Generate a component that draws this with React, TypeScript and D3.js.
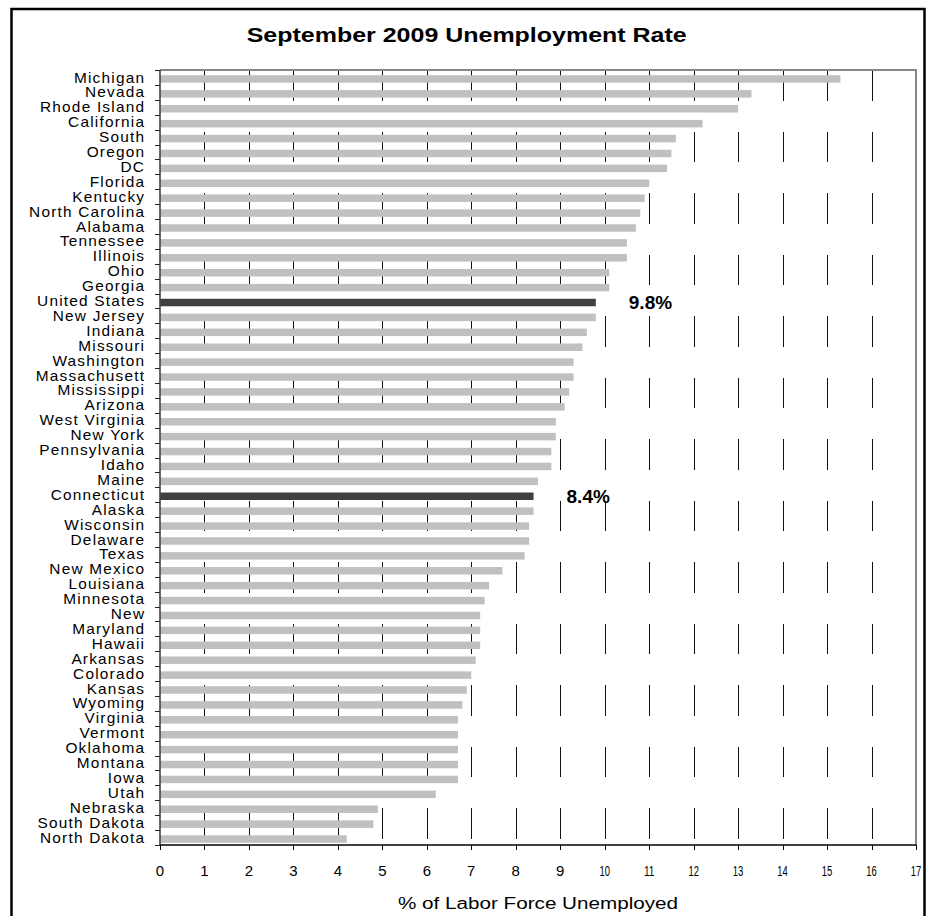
import React from "react";
import * as d3 from "d3";

// September 2009 unemployment rate by state (percent of labor force)
const states = [
  "Michigan", "Nevada", "Rhode Island", "California", "South", "Oregon", "DC",
  "Florida", "Kentucky", "North Carolina", "Alabama", "Tennessee", "Illinois",
  "Ohio", "Georgia", "United States", "New Jersey", "Indiana", "Missouri",
  "Washington", "Massachusett", "Mississippi", "Arizona", "West Virginia",
  "New York", "Pennsylvania", "Idaho", "Maine", "Connecticut", "Alaska",
  "Wisconsin", "Delaware", "Texas", "New Mexico", "Louisiana", "Minnesota",
  "New", "Maryland", "Hawaii", "Arkansas", "Colorado", "Kansas", "Wyoming",
  "Virginia", "Vermont", "Oklahoma", "Montana", "Iowa", "Utah", "Nebraska",
  "South Dakota", "North Dakota",
];

const rates = [
  15.3, 13.3, 13.0, 12.2, 11.6, 11.5, 11.4,
  11.0, 10.9, 10.8, 10.7, 10.5, 10.5,
  10.1, 10.1, 9.8, 9.8, 9.6, 9.5,
  9.3, 9.3, 9.2, 9.1, 8.9,
  8.9, 8.8, 8.8, 8.5, 8.4, 8.4,
  8.3, 8.3, 8.2, 7.7, 7.4, 7.3,
  7.2, 7.2, 7.2, 7.1, 7.0, 6.9, 6.8,
  6.7, 6.7, 6.7, 6.7, 6.7, 6.2, 4.9,
  4.8, 4.2,
];

// Rows drawn dark and annotated with their value
const highlighted = ["United States", "Connecticut"];

const xTickValues = [0, 1, 2, 3, 4, 5, 6, 7, 8, 9, 10, 11, 12, 13, 14, 15, 16, 17];

const title = "September 2009 Unemployment Rate";
const xAxisTitle = "% of Labor Force Unemployed";

const W = 930;
const H = 916;
const plot = { left: 160, right: 916, top: 70, bottom: 845 };
const FONT = "'Liberation Sans', Arial, Helvetica, sans-serif";
// the category lettering is set slightly wide and loosely spaced
const STRETCH = 1.1;
const TRACKING = 1.1;

export default function App() {
  const data = states.map((name, i) => ({ name, value: rates[i] }));

  const x = d3.scaleLinear().domain([0, 17]).range([plot.left, plot.right]);
  const y = d3.scaleBand<string>().domain(states).range([plot.top, plot.bottom]);

  const barH = 7.5;
  const barTop = (name: string) => (y(name) as number) + y.bandwidth() / 2 - barH / 2 + 1.5;
  const rowBoundaries = states.map((s) => y(s) as number).slice(1);

  return (
    <svg
      width={W}
      height={H}
      viewBox={`0 0 ${W} ${H}`}
      style={{ position: "absolute", left: 0, top: 0, background: "#fff" }}
      fontFamily={FONT}
    >
      {/* outer chart frame */}
      <rect x={11.5} y={9} width={913} height={930} fill="#fff" stroke="#000" strokeWidth={2.5} />

      {/* title */}
      <text
        x={466.7}
        y={41.5}
        textAnchor="middle"
        fontSize={20.5}
        fontWeight="bold"
        textLength={440}
        lengthAdjust="spacingAndGlyphs"
        fill="#000"
      >
        {title}
      </text>

      {/* dashed vertical gridlines, behind the bars */}
      <g>
        {xTickValues
          .filter((v) => v > 0 && v < 17)
          .map((v) => (
            <line
              key={`g${v}`}
              x1={Math.round(x(v)) + 0.5}
              x2={Math.round(x(v)) + 0.5}
              y1={plot.top}
              y2={plot.bottom}
              stroke="#111"
              strokeWidth={1}
              strokeDasharray="30.75 30.75"
              shapeRendering="crispEdges"
            />
          ))}
      </g>

      {/* bars */}
      <g>
        {data.map((d) => (
          <rect
            key={d.name}
            x={x(0)}
            y={barTop(d.name)}
            width={x(d.value) - x(0)}
            height={barH}
            fill={highlighted.includes(d.name) ? "#404040" : "#c0c0c0"}
          />
        ))}
      </g>

      {/* plot frame: top and right in grey */}
      <path
        d={`M${plot.left},${plot.top}H${plot.right}V${plot.bottom}`}
        fill="none"
        stroke="#868686"
        strokeWidth={2}
      />
      {/* category axis */}
      <line x1={plot.left} x2={plot.left} y1={plot.top} y2={plot.bottom} stroke="#444" strokeWidth={1.6} />
      {rowBoundaries.concat([plot.top, plot.bottom]).map((b, i) => (
        <line
          key={`yt${i}`}
          x1={plot.left - 5.5}
          x2={plot.left}
          y1={Math.round(b) + 0.5}
          y2={Math.round(b) + 0.5}
          stroke="#222"
          strokeWidth={1}
          shapeRendering="crispEdges"
        />
      ))}
      {states.map((s) => (
        <g
          key={`yl${s}`}
          transform={`translate(${144 + TRACKING * STRETCH},${(y(s) as number) + y.bandwidth() / 2}) scale(${STRETCH},1)`}
        >
          <text dy="0.36em" textAnchor="end" fontSize={14} letterSpacing={`${TRACKING}px`} fill="#000">
            {s}
          </text>
        </g>
      ))}

      {/* value axis */}
      <line x1={plot.left} x2={plot.right} y1={plot.bottom} y2={plot.bottom} stroke="#000" strokeWidth={1.5} />
      {xTickValues.map((v) => (
        <line
          key={`xt${v}`}
          x1={Math.round(x(v)) + 0.5}
          x2={Math.round(x(v)) + 0.5}
          y1={plot.bottom}
          y2={plot.bottom + 5}
          stroke="#000"
          strokeWidth={1}
          shapeRendering="crispEdges"
        />
      ))}
      {xTickValues.map((v) => {
        const label = String(v);
        const squeeze = label.length > 1 ? { textLength: 10.5, lengthAdjust: "spacingAndGlyphs" } : {};
        return (
          <text
            key={`xl${v}`}
            x={x(v)}
            y={876}
            textAnchor="middle"
            fontSize={15}
            fill="#000"
            {...squeeze}
          >
            {label}
          </text>
        );
      })}
      <text
        x={(plot.left + plot.right) / 2}
        y={909}
        textAnchor="middle"
        fontSize={16}
        textLength={280}
        lengthAdjust="spacingAndGlyphs"
        fill="#000"
      >
        {xAxisTitle}
      </text>

      {/* value annotations for highlighted rows */}
      {data
        .filter((d) => highlighted.includes(d.name))
        .map((d) => (
          <text
            key={`v${d.name}`}
            x={x(d.value) + 33}
            y={barTop(d.name) + barH / 2}
            dy="0.36em"
            fontSize={19}
            fontWeight="bold"
            fill="#000"
          >
            {`${d.value.toFixed(1)}%`}
          </text>
        ))}
    </svg>
  );
}
